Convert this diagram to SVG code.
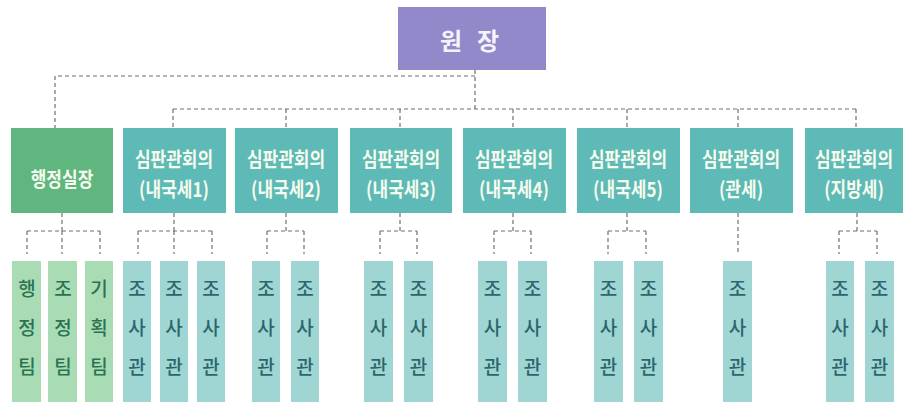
<svg xmlns="http://www.w3.org/2000/svg" width="905" height="404" viewBox="0 0 905 404">
<style>
.ln{fill:none;stroke:#6f6f6f;stroke-width:1.2;stroke-dasharray:4 3}
.top{fill:#9189c9}
.adm{fill:#5fb77f}
.mid{fill:#5dbab6}
.lg{fill:#a9dcb4}
.lt{fill:#9fd6d4}
.t{font-family:"Noto Sans CJK KR","Noto Sans",sans-serif;text-anchor:middle}
.tw{fill:#f6fbee;font-size:17px;font-weight:bold}
.tg{fill:#2a7352;font-size:19px;font-weight:500}
.tb{fill:#2b666d;font-size:19px;font-weight:500}
</style>
<g id="connectors">
<path class="ln" d="M475 70V109M475 76H55V128M173 109H856M173 109V128M286 109V128M400 109V128M513 109V128M627 109V128M738 109V128M856 109V128"/>
<path class="ln" d="M62 213V231M27 231H100M27 231V254M62 231V254M100 231V254"/>
<path class="ln" d="M174 213V231M138 231H212M138 231V254M174 231V254M212 231V254"/>
<path class="ln" d="M286 213V231M267 231H304M267 231V254M304 231V254"/>
<path class="ln" d="M400 213V231M380 231H417M380 231V254M417 231V254"/>
<path class="ln" d="M513 213V231M494 231H531M494 231V254M531 231V254"/>
<path class="ln" d="M627 213V231M608 231H646M608 231V254M646 231V254"/>
<path class="ln" d="M738 213V254"/>
<path class="ln" d="M857 213V231M839 231H877M839 231V254M877 231V254"/>
</g>
<g id="n-top"><rect class="top" x="398" y="7" width="148" height="63"/><text class="t" fill="#f4f2fb" font-size="24" font-weight="bold"><tspan x="451" y="50">원</tspan><tspan x="488" y="50">장</tspan></text></g>
<g id="n-admin"><rect class="adm" x="11" y="128" width="102" height="85"/><text class="t tw" transform="translate(62 187) scale(1 1.2)">행정실장</text></g>
<g id="n-c1"><rect class="mid" x="123" y="128" width="103" height="85"/><text class="t tw" transform="translate(174 167) scale(1 1.2)">심판관회의</text><text class="t tw" transform="translate(174 197) scale(1 1.2)">(내국세1)</text></g>
<g id="n-c2"><rect class="mid" x="235" y="128" width="103" height="85"/><text class="t tw" transform="translate(286 167) scale(1 1.2)">심판관회의</text><text class="t tw" transform="translate(286 197) scale(1 1.2)">(내국세2)</text></g>
<g id="n-c3"><rect class="mid" x="350" y="128" width="102" height="85"/><text class="t tw" transform="translate(401 167) scale(1 1.2)">심판관회의</text><text class="t tw" transform="translate(401 197) scale(1 1.2)">(내국세3)</text></g>
<g id="n-c4"><rect class="mid" x="463" y="128" width="103" height="85"/><text class="t tw" transform="translate(514 167) scale(1 1.2)">심판관회의</text><text class="t tw" transform="translate(514 197) scale(1 1.2)">(내국세4)</text></g>
<g id="n-c5"><rect class="mid" x="577" y="128" width="103" height="85"/><text class="t tw" transform="translate(628 167) scale(1 1.2)">심판관회의</text><text class="t tw" transform="translate(628 197) scale(1 1.2)">(내국세5)</text></g>
<g id="n-c6"><rect class="mid" x="690" y="128" width="103" height="85"/><text class="t tw" transform="translate(741 167) scale(1 1.2)">심판관회의</text><text class="t tw" transform="translate(741 197) scale(1 1.2)">(관세)</text></g>
<g id="n-c7"><rect class="mid" x="805" y="128" width="98" height="85"/><text class="t tw" transform="translate(854 167) scale(1 1.2)">심판관회의</text><text class="t tw" transform="translate(854 197) scale(1 1.2)">(지방세)</text></g>
<g id="n-a1"><rect class="lg" x="12" y="261" width="29" height="141"/><text class="t tg"><tspan x="27" y="296">행</tspan><tspan x="27" y="335">정</tspan><tspan x="27" y="374">팀</tspan></text></g>
<g id="n-a2"><rect class="lg" x="48" y="261" width="29" height="141"/><text class="t tg"><tspan x="63" y="296">조</tspan><tspan x="63" y="335">정</tspan><tspan x="63" y="374">팀</tspan></text></g>
<g id="n-a3"><rect class="lg" x="85" y="261" width="28" height="141"/><text class="t tg"><tspan x="99" y="296">기</tspan><tspan x="99" y="335">획</tspan><tspan x="99" y="374">팀</tspan></text></g>
<g id="n-s1"><rect class="lt" x="123" y="261" width="28" height="141"/><text class="t tb"><tspan x="137" y="296">조</tspan><tspan x="137" y="335">사</tspan><tspan x="137" y="374">관</tspan></text></g>
<g id="n-s2"><rect class="lt" x="160" y="261" width="28" height="141"/><text class="t tb"><tspan x="174" y="296">조</tspan><tspan x="174" y="335">사</tspan><tspan x="174" y="374">관</tspan></text></g>
<g id="n-s3"><rect class="lt" x="197" y="261" width="28" height="141"/><text class="t tb"><tspan x="211" y="296">조</tspan><tspan x="211" y="335">사</tspan><tspan x="211" y="374">관</tspan></text></g>
<g id="n-s4"><rect class="lt" x="252" y="261" width="28" height="141"/><text class="t tb"><tspan x="266" y="296">조</tspan><tspan x="266" y="335">사</tspan><tspan x="266" y="374">관</tspan></text></g>
<g id="n-s5"><rect class="lt" x="291" y="261" width="28" height="141"/><text class="t tb"><tspan x="305" y="296">조</tspan><tspan x="305" y="335">사</tspan><tspan x="305" y="374">관</tspan></text></g>
<g id="n-s6"><rect class="lt" x="364" y="261" width="29" height="141"/><text class="t tb"><tspan x="378.5" y="296">조</tspan><tspan x="378.5" y="335">사</tspan><tspan x="378.5" y="374">관</tspan></text></g>
<g id="n-s7"><rect class="lt" x="404" y="261" width="29" height="141"/><text class="t tb"><tspan x="418.5" y="296">조</tspan><tspan x="418.5" y="335">사</tspan><tspan x="418.5" y="374">관</tspan></text></g>
<g id="n-s8"><rect class="lt" x="478" y="261" width="29" height="141"/><text class="t tb"><tspan x="492.5" y="296">조</tspan><tspan x="492.5" y="335">사</tspan><tspan x="492.5" y="374">관</tspan></text></g>
<g id="n-s9"><rect class="lt" x="518" y="261" width="29" height="141"/><text class="t tb"><tspan x="532.5" y="296">조</tspan><tspan x="532.5" y="335">사</tspan><tspan x="532.5" y="374">관</tspan></text></g>
<g id="n-s10"><rect class="lt" x="594" y="261" width="29" height="141"/><text class="t tb"><tspan x="608.5" y="296">조</tspan><tspan x="608.5" y="335">사</tspan><tspan x="608.5" y="374">관</tspan></text></g>
<g id="n-s11"><rect class="lt" x="634" y="261" width="29" height="141"/><text class="t tb"><tspan x="648.5" y="296">조</tspan><tspan x="648.5" y="335">사</tspan><tspan x="648.5" y="374">관</tspan></text></g>
<g id="n-s12"><rect class="lt" x="723" y="261" width="29" height="141"/><text class="t tb"><tspan x="737.5" y="296">조</tspan><tspan x="737.5" y="335">사</tspan><tspan x="737.5" y="374">관</tspan></text></g>
<g id="n-s13"><rect class="lt" x="826" y="261" width="28" height="141"/><text class="t tb"><tspan x="840" y="296">조</tspan><tspan x="840" y="335">사</tspan><tspan x="840" y="374">관</tspan></text></g>
<g id="n-s14"><rect class="lt" x="865" y="261" width="29" height="141"/><text class="t tb"><tspan x="879.5" y="296">조</tspan><tspan x="879.5" y="335">사</tspan><tspan x="879.5" y="374">관</tspan></text></g>
</svg>
